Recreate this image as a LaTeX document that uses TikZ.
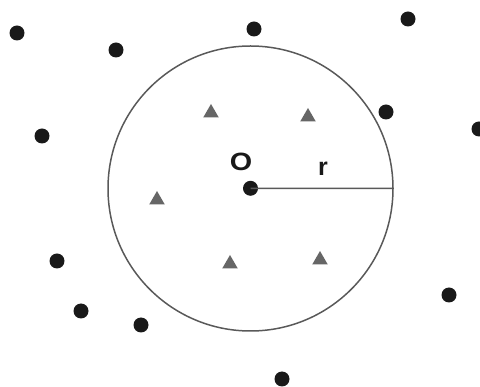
\documentclass[tikz,border=0pt]{standalone}
\usepackage{fontspec}
\setmainfont{Liberation Sans}
\usetikzlibrary{shapes.geometric}
\begin{document}
\begin{tikzpicture}[x=1pt,y=-1pt,
  dot/.style={circle,fill=black!90,inner sep=0pt,minimum size=15pt},
  tri/.style={regular polygon,regular polygon sides=3,fill=black!60,inner sep=0pt,minimum size=18pt},
  lbl/.style={font=\bfseries\fontsize{25}{30}\selectfont,inner sep=0pt,text=black!90},
  edge/.style={draw=black!65,line width=1.5pt}]
\useasboundingbox (0,0) rectangle (480,387);
\node[circle,edge,minimum size=285pt,inner sep=0pt] (C) at (250.5,188.5) {};
\node[dot] (O) at (250.5,188.3) {};
\draw[edge] (O.center) -- (C.east);
\node[lbl,xscale=1.15] (lO) at (241,162) {O};
\node[lbl] (lr) at (323,169) {r};
% outside points
\node[dot] (d1) at (17,33) {};
\node[dot] (d2) at (116,50) {};
\node[dot] (d3) at (254,29) {};
\node[dot] (d4) at (408,19) {};
\node[dot] (d5) at (386,112) {};
\node[dot] (d6) at (479,129) {};
\node[dot] (d7) at (42,136) {};
\node[dot] (d8) at (57,261) {};
\node[dot] (d9) at (81,311) {};
\node[dot] (d10) at (141,325) {};
\node[dot] (d11) at (449,295) {};
\node[dot] (d12) at (282,379) {};
% inside points
\node[tri] (t1) at (211,113) {};
\node[tri] (t2) at (308,117) {};
\node[tri] (t3) at (157,200) {};
\node[tri] (t4) at (230,264) {};
\node[tri] (t5) at (320,260) {};
\end{tikzpicture}
\end{document}
